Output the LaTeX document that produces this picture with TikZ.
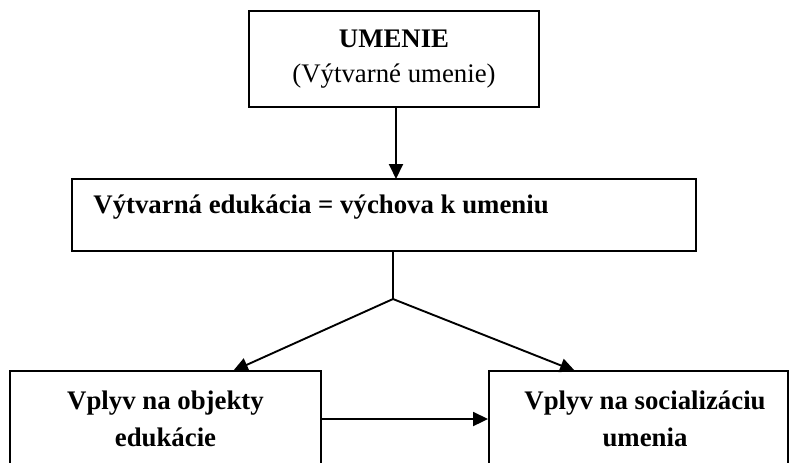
\documentclass[tikz,border=0pt]{standalone}
\usepackage{fontspec}
\setmainfont{Liberation Serif}
\usetikzlibrary{arrows.meta}

\tikzset{
  box/.style={draw, line width=0.95pt, rectangle, inner sep=0pt},
  label/.style={font=\fontsize{13.4pt}{17.5pt}\selectfont, align=center, inner sep=0pt},
  sublabel/.style={font=\bfseries\fontsize{13.4pt}{18.5pt}\selectfont, align=center, inner sep=0pt},
  link/.style={line width=0.95pt, -{Triangle[length=7.5pt,width=7pt]}},
  plain/.style={line width=0.95pt}
}

\begin{document}
\begin{tikzpicture}[x=0.5pt,y=-0.5pt]
  \useasboundingbox (0,0) rectangle (790,462);
  \clip (0,0) rectangle (790,462);

  % top box: the art itself
  \node[box, minimum width=145pt, minimum height=48pt] (top) at (394,59) {};
  \node[label] (toptext) at (394,59.5) {\textbf{UMENIE}\\(Výtvarné umenie)};

  % middle box: art education
  \node[box, minimum width=312pt, minimum height=36pt] (mid) at (384,215) {};
  \node[label, anchor=west, font=\bfseries\fontsize{13.4pt}{17.5pt}\selectfont] (midtext) at (93,207)
    {Výtvarná edukácia = výchova k umeniu};

  % bottom boxes (run past the lower edge)
  \node[box, minimum width=155.5pt, minimum height=48pt] (left) at (165.5,419) {};
  \node[sublabel] (lefttext) at (165.5,418.5) {Vplyv na objekty\\edukácie};
  \node[box, minimum width=149.5pt, minimum height=48pt] (right) at (638.5,419) {};
  \node[sublabel] (righttext) at (645,418.5) {Vplyv na socializáciu\\umenia};

  % branching point and arrow targets
  \coordinate (apex) at (393,299);
  \coordinate (tipL) at (233,371);
  \coordinate (tipR) at (575,371);

  \draw[link] (396,107) -- (396,179);
  \draw[plain] (apex |- mid.south) -- (apex);
  \draw[link] (apex) -- (tipL);
  \draw[link] (apex) -- (tipR);
  \draw[link] (left.east) -- (right.west);
\end{tikzpicture}
\end{document}
